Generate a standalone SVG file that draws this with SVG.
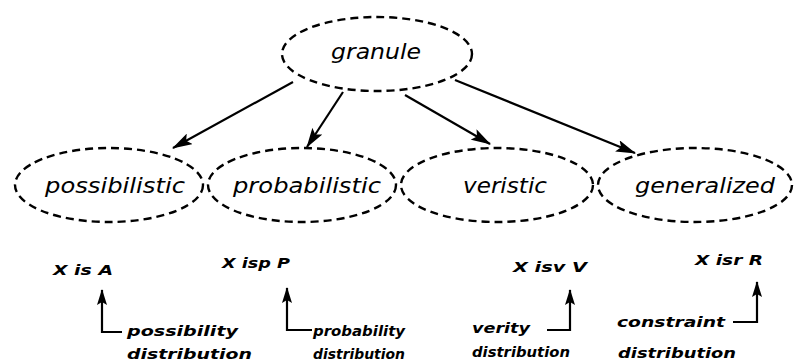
<svg xmlns="http://www.w3.org/2000/svg" width="795" height="363" viewBox="0 0 795 363">
<style>
.node{fill:none;stroke:#000;stroke-width:2.4;stroke-dasharray:8 5}
.nt{font-family:"DejaVu Sans",sans-serif;font-style:italic;font-size:22px;fill:#000;text-anchor:middle}
.lb{font-family:"DejaVu Sans",sans-serif;font-style:italic;font-weight:bold;font-size:14px;fill:#000}
.cn{fill:none;stroke:#000;stroke-width:2.2}
</style>
<defs>
<marker id="ah" markerWidth="20" markerHeight="12" refX="19" refY="6" orient="auto" markerUnits="userSpaceOnUse">
<path d="M0,0 L20,6 L0,12 L4,6 Z" fill="#000"/>
</marker>
<marker id="as" markerWidth="16" markerHeight="10" refX="15" refY="5" orient="auto" markerUnits="userSpaceOnUse">
<path d="M0,0 L16,5 L0,10 L3,5 Z" fill="#000"/>
</marker>
</defs>
<g id="granule"><ellipse class="node" cx="377" cy="54" rx="95" ry="37"/><text class="nt" x="376" y="59" textLength="90" lengthAdjust="spacingAndGlyphs">granule</text></g>
<g id="possibilistic"><ellipse class="node" cx="109" cy="185" rx="94" ry="37"/><text class="nt" x="115" y="193" textLength="140" lengthAdjust="spacingAndGlyphs">possibilistic</text></g>
<g id="probabilistic"><ellipse class="node" cx="302" cy="185" rx="94" ry="37"/><text class="nt" x="307" y="193" textLength="148" lengthAdjust="spacingAndGlyphs">probabilistic</text></g>
<g id="veristic"><ellipse class="node" cx="497" cy="185" rx="96" ry="37"/><text class="nt" x="505" y="193" textLength="84" lengthAdjust="spacingAndGlyphs">veristic</text></g>
<g id="generalized"><ellipse class="node" cx="695" cy="185" rx="97" ry="37"/><text class="nt" x="705" y="193" textLength="140" lengthAdjust="spacingAndGlyphs">generalized</text></g>
<g id="connectors">
<line class="cn" x1="293" y1="82" x2="173" y2="148" marker-end="url(#ah)"/>
<line class="cn" x1="343" y1="92" x2="307" y2="147" marker-end="url(#ah)"/>
<line class="cn" x1="405" y1="95" x2="490" y2="144" marker-end="url(#ah)"/>
<line class="cn" x1="455" y1="80" x2="635" y2="153" marker-end="url(#ah)"/>
<polyline class="cn" points="122,332 102,332 102,290" marker-end="url(#as)"/>
<polyline class="cn" points="312,330 287,330 287,288" marker-end="url(#as)"/>
<polyline class="cn" points="547,330 570,330 570,290" marker-end="url(#as)"/>
<polyline class="cn" points="733,322 757,322 757,282" marker-end="url(#as)"/>
</g>
<g id="labels">
<text class="lb" x="53" y="275" textLength="60" lengthAdjust="spacingAndGlyphs">X is A</text>
<text class="lb" x="222" y="268" textLength="68" lengthAdjust="spacingAndGlyphs">X isp P</text>
<text class="lb" x="513" y="272" textLength="74" lengthAdjust="spacingAndGlyphs">X isv V</text>
<text class="lb" x="695" y="265" textLength="68" lengthAdjust="spacingAndGlyphs">X isr R</text>
<text class="lb" x="127" y="336" textLength="111" lengthAdjust="spacingAndGlyphs">possibility</text>
<text class="lb" x="127" y="359" textLength="125" lengthAdjust="spacingAndGlyphs">distribution</text>
<text class="lb" x="313" y="336" textLength="92" lengthAdjust="spacingAndGlyphs">probability</text>
<text class="lb" x="313" y="359" textLength="92" lengthAdjust="spacingAndGlyphs">distribution</text>
<text class="lb" x="472" y="333" textLength="58" lengthAdjust="spacingAndGlyphs">verity</text>
<text class="lb" x="472" y="357" textLength="98" lengthAdjust="spacingAndGlyphs">distribution</text>
<text class="lb" x="617" y="327" textLength="108" lengthAdjust="spacingAndGlyphs">constraint</text>
<text class="lb" x="618" y="358" textLength="118" lengthAdjust="spacingAndGlyphs">distribution</text>
</g>
</svg>
